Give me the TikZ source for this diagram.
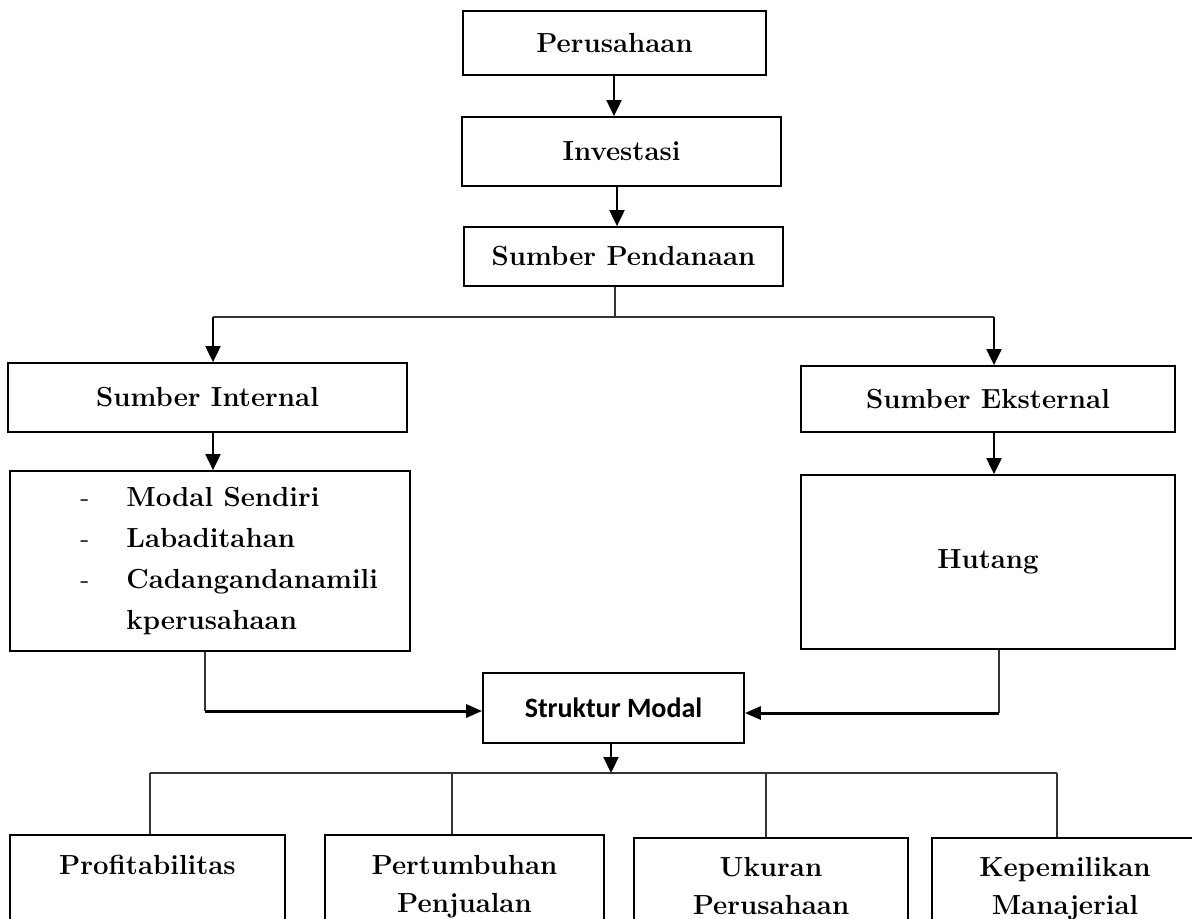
\documentclass[tikz,border=0pt]{standalone}
\usepackage{fontspec}
\newfontfamily\smfont{Carlito}
\usetikzlibrary{arrows.meta,positioning}

\begin{document}
\begin{tikzpicture}[x=0.5pt, y=-0.5pt,
    box/.style={rectangle, draw=black, line width=0.9pt, inner sep=0pt,
                align=center, font=\fontsize{13.8pt}{19.5pt}\selectfont\bfseries},
    txt/.style={inner sep=0pt, align=center, font=\fontsize{13.8pt}{19pt}\selectfont\bfseries},
    link/.style={draw=black!80, line width=0.6pt},
    arr/.style={-{Triangle[length=8pt,width=7.5pt]}, line width=1pt},
    harr/.style={-{Triangle[length=8pt,width=6.5pt]}, line width=1.5pt},
]
    \useasboundingbox (0,0) rectangle (1192,918);
    \clip (0,0) rectangle (1192,918);

    % Top chain
    \node[box, minimum width=151.5pt, minimum height=32pt] (peru) at (614.5,43) {Perusahaan};
    \node[box, minimum width=159.5pt, minimum height=34.5pt] (inv) at (621.5,151.5) {Investasi};
    \node[box, minimum width=159.5pt, minimum height=29.5pt] (sp) at (623.5,256.5) {Sumber Pendanaan};

    % Internal and external sources
    \node[box, minimum width=199.5pt, minimum height=34.5pt] (intl) at (207.5,397.5) {Sumber Internal};
    \node[box, minimum width=200pt, minimum height=90pt] (list) at (210,561) {};
    \node[anchor=west, inner sep=0pt] (listtxt) at (80,560)
          {\fontsize{13.8pt}{20.4pt}\selectfont
           \begin{tabular}{@{}l@{\hspace{18.5pt}}l@{}}
             - & \textbf{Modal Sendiri}\\
             - & \textbf{Labaditahan}\\
             - & \textbf{Cadangandanamili}\\
               & \textbf{kperusahaan}
           \end{tabular}};
    \node[box, minimum width=187pt, minimum height=33pt] (extl) at (988,399) {Sumber Eksternal};
    \node[box, minimum width=187pt, minimum height=87pt] (hut) at (988,562) {\raisebox{-3pt}{Hutang}};

    % Capital structure
    \node[box, minimum width=130.5pt, minimum height=35pt,
          font=\smfont\bfseries\fontsize{14pt}{17pt}\selectfont] (sm) at (613.5,708) {Struktur Modal};

    % Factors (cut off at the bottom)
    \node[box, anchor=north, minimum width=137.5pt, minimum height=80pt] (prof) at (147.5,834) {};
    \node[box, anchor=north, minimum width=139.5pt, minimum height=80pt] (pert) at (464.5,834) {};
    \node[box, anchor=north, minimum width=137pt, minimum height=80pt] (ukur) at (771,837) {};
    \node[box, anchor=north, minimum width=133pt, minimum height=80pt] (kepe) at (1065,837) {};
    \node[txt, below=10.5pt of prof.north] (proft) {Profitabilitas};
    \node[txt, below=10.5pt of pert.north] (pertt) {Pertumbuhan\\Penjualan};
    \node[txt, below=10pt of ukur.north] (ukurt) {Ukuran\\Perusahaan};
    \node[txt, below=10pt of kepe.north] (kepet) {Kepemilikan\\Manajerial};

    % Arrows down the chain
    \draw[arr] (peru.south -| 614,0) -- (inv.north -| 614,0);
    \draw[arr] (inv.south -| 617,0) -- (sp.north -| 617,0);

    % Split into two sources
    \coordinate (split) at (615,317);
    \coordinate (splitL) at (213,317);
    \coordinate (splitR) at (994,317);
    \draw[link] (sp.south -| split) -- (split);
    \draw[link] (splitL) -- (splitR);
    \draw[arr] (splitL) -- (intl.north -| splitL);
    \draw[arr] (splitR) -- (extl.north -| splitR);
    \draw[arr] (intl.south -| splitL) -- (list.north -| splitL);
    \draw[arr] (extl.south -| splitR) -- (hut.north -| splitR);

    % Join into Struktur Modal
    \coordinate (joinL) at (205,711);
    \coordinate (joinR) at (999,713);
    \draw[link] (list.south -| joinL) -- (joinL);
    \draw[harr] (joinL) -- (sm.west |- joinL);
    \draw[link] (hut.south -| joinR) -- (joinR);
    \draw[harr] (joinR) -- (sm.east |- joinR);

    % Fork to the four factors
    \coordinate (fork) at (611,773);
    \coordinate (forkL) at (150,773);
    \coordinate (forkR) at (1057,773);
    \draw[arr] (sm.south -| fork) -- (fork);
    \draw[link] (forkL) -- (forkR);
    \foreach \b/\x in {prof/150, pert/452, ukur/766, kepe/1057} {
        \coordinate (d\b) at (\x,773);
        \draw[link] (d\b) -- (d\b |- \b.north);
    }
\end{tikzpicture}
\end{document}
